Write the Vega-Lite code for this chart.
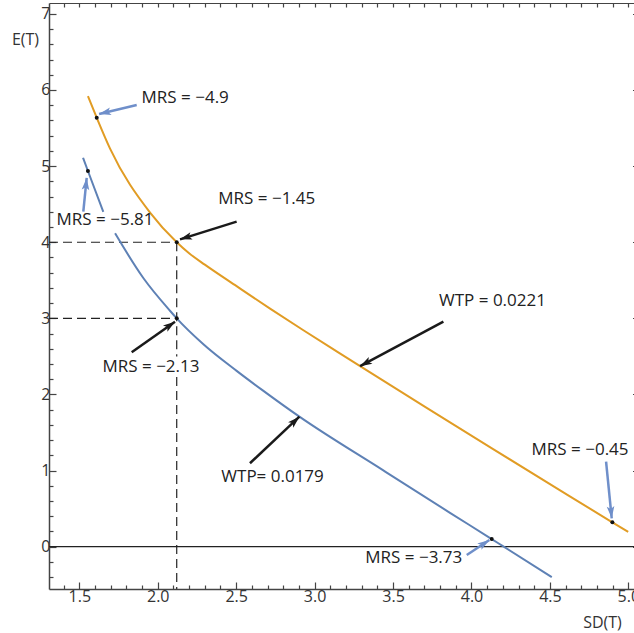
{
  "$schema": "https://vega.github.io/schema/vega-lite/v6.json",
  "width": 585,
  "height": 586,
  "autosize": {"type": "none"},
  "padding": {"left": 49, "top": 3, "right": 0, "bottom": 44},
  "background": "white",
  "config": {"view": {"stroke": null}, "font": "Open Sans", "text": {"font": "Open Sans"}},
  "datasets": {
    "curves": [
      {"curve": "high", "seg": "a", "x": 1.555, "y": 5.92},
      {"curve": "high", "seg": "a", "x": 1.611, "y": 5.636},
      {"curve": "high", "seg": "a", "x": 1.696, "y": 5.23},
      {"curve": "high", "seg": "a", "x": 1.951, "y": 4.39},
      {"curve": "high", "seg": "a", "x": 2.121, "y": 4.0},
      {"curve": "high", "seg": "a", "x": 2.2, "y": 3.855},
      {"curve": "high", "seg": "a", "x": 2.3, "y": 3.705},
      {"curve": "high", "seg": "a", "x": 2.505, "y": 3.419},
      {"curve": "high", "seg": "a", "x": 2.716, "y": 3.128},
      {"curve": "high", "seg": "a", "x": 2.926, "y": 2.847},
      {"curve": "high", "seg": "a", "x": 3.143, "y": 2.563},
      {"curve": "high", "seg": "a", "x": 3.29, "y": 2.372},
      {"curve": "high", "seg": "a", "x": 3.717, "y": 1.821},
      {"curve": "high", "seg": "a", "x": 4.138, "y": 1.282},
      {"curve": "high", "seg": "a", "x": 4.565, "y": 0.74},
      {"curve": "high", "seg": "a", "x": 4.898, "y": 0.32},
      {"curve": "high", "seg": "a", "x": 4.999, "y": 0.194},
      {"curve": "low", "seg": "b", "x": 1.524, "y": 5.11},
      {"curve": "low", "seg": "b", "x": 1.555, "y": 4.936},
      {"curve": "low", "seg": "b", "x": 1.653, "y": 4.4},
      {"curve": "low", "seg": "c", "x": 1.728, "y": 4.117},
      {"curve": "low", "seg": "c", "x": 1.908, "y": 3.53},
      {"curve": "low", "seg": "c", "x": 2.078, "y": 3.1},
      {"curve": "low", "seg": "c", "x": 2.121, "y": 3.0},
      {"curve": "low", "seg": "c", "x": 2.291, "y": 2.66},
      {"curve": "low", "seg": "c", "x": 2.503, "y": 2.31},
      {"curve": "low", "seg": "c", "x": 2.665, "y": 2.06},
      {"curve": "low", "seg": "c", "x": 2.903, "y": 1.708},
      {"curve": "low", "seg": "c", "x": 3.438, "y": 1.002},
      {"curve": "low", "seg": "c", "x": 3.863, "y": 0.445},
      {"curve": "low", "seg": "c", "x": 4.129, "y": 0.1},
      {"curve": "low", "seg": "c", "x": 4.203, "y": 0.003},
      {"curve": "low", "seg": "c", "x": 4.512, "y": -0.4}
    ],
    "dots": [
      {"x": 1.611, "y": 5.636},
      {"x": 1.555, "y": 4.936},
      {"x": 2.121, "y": 4.0},
      {"x": 2.121, "y": 3.0},
      {"x": 4.898, "y": 0.32},
      {"x": 4.129, "y": 0.1}
    ],
    "guides": [
      {"x": 1.3068, "y": 4.0, "x2": 2.121, "y2": 4.0},
      {"x": 1.3068, "y": 3.0, "x2": 2.121, "y2": 3.0},
      {"x": 2.121, "y": 4.0, "x2": 2.121, "y2": 2.5},
      {"x": 2.121, "y": 2.23, "x2": 2.121, "y2": -0.556}
    ],
    "arrows": [
      {"x": 1.866, "y": 5.802, "x2": 1.626, "y2": 5.684, "dir": 256.6, "kind": "blue"},
      {"x": 1.5255, "y": 4.401, "x2": 1.547, "y2": 4.844, "dir": 5.8, "kind": "blue"},
      {"x": 2.503, "y": 4.27, "x2": 2.142, "y2": 4.038, "dir": 252.8, "kind": "black"},
      {"x": 1.834, "y": 2.554, "x2": 2.11, "y2": 2.956, "dir": 54.75, "kind": "black"},
      {"x": 3.821, "y": 2.956, "x2": 3.29, "y2": 2.372, "dir": 241.3, "kind": "black"},
      {"x": 4.858, "y": 1.117, "x2": 4.894, "y2": 0.373, "dir": 174.25, "kind": "blue"},
      {"x": 2.588, "y": 1.096, "x2": 2.903, "y2": 1.708, "dir": 46.6, "kind": "black"},
      {"x": 3.97, "y": -0.109, "x2": 4.114, "y2": 0.088, "dir": 56.4, "kind": "blue"}
    ],
    "labels": [
      {"x": 2.175, "y": 5.895, "text": "MRS = −4.9"},
      {"x": 2.695, "y": 4.568, "text": "MRS = −1.45"},
      {"x": 1.664, "y": 4.292, "text": "MRS = −5.81"},
      {"x": 1.957, "y": 2.367, "text": "MRS = −2.13"},
      {"x": 4.134, "y": 3.228, "text": "WTP = 0.0221"},
      {"x": 4.692, "y": 1.27, "text": "MRS = −0.45"},
      {"x": 2.732, "y": 0.922, "text": "WTP= 0.0179"},
      {"x": 3.632, "y": -0.155, "text": "MRS = −3.73"}
    ],
    "zero": [{"y": 0}]
  },
  "resolve": {"axis": {"x": "independent", "y": "independent"}},
  "layer": [
    {
      "data": {"name": "zero"},
      "mark": {"type": "rule", "color": "#222222", "strokeWidth": 1.2},
      "encoding": {
        "y": {"field": "y", "type": "quantitative", "scale": {"domain": [-0.556, 7.143], "nice": false, "zero": false}, "axis": null}
      }
    },
    {
      "data": {"name": "guides"},
      "mark": {"type": "rule", "color": "#222222", "strokeWidth": 1.2, "strokeDash": [9, 5]},
      "encoding": {
        "x": {"field": "x", "type": "quantitative", "scale": {"domain": [1.3068, 5.036], "nice": false, "zero": false}, "axis": null},
        "y": {"field": "y", "type": "quantitative", "axis": null},
        "x2": {"field": "x2"},
        "y2": {"field": "y2"}
      }
    },
    {
      "data": {"name": "curves"},
      "mark": {"type": "line", "interpolate": "monotone", "strokeWidth": 2},
      "encoding": {
        "x": {
          "field": "x", "type": "quantitative",
          "scale": {"domain": [1.3068, 5.036], "nice": false, "zero": false},
          "axis": {
            "orient": "bottom",
            "values": [1.4, 1.5, 1.6, 1.7, 1.8, 1.9, 2.0, 2.1, 2.2, 2.3, 2.4, 2.5, 2.6, 2.7, 2.8, 2.9, 3.0, 3.1, 3.2, 3.3, 3.4, 3.5, 3.6, 3.7, 3.8, 3.9, 4.0, 4.1, 4.2, 4.3, 4.4, 4.5, 4.6, 4.7, 4.8, 4.9, 5.0],
            "labelExpr": "abs(datum.value*2 - round(datum.value*2)) < 0.001 ? format(datum.value, '.1f') : ''",
            "tickSize": {"condition": {"test": "abs(datum.value*2 - round(datum.value*2)) < 0.001", "value": -7}, "value": -4},
            "grid": false,
            "labelOverlap": false,
            "labelFlush": false,
            "labelFontSize": 16,
            "labelColor": "#333333",
            "labelPadding": 6,
            "domainColor": "#444444",
            "domainWidth": 1.5,
            "tickColor": "#444444",
            "tickWidth": 1.2,
            "title": "SD(T)",
            "titleX": 553,
            "titleY": 33,
            "titleAlign": "center",
            "titleBaseline": "middle",
            "titleFontSize": 16,
            "titleFontWeight": "normal",
            "titleColor": "#333333"
          }
        },
        "y": {
          "field": "y", "type": "quantitative",
          "scale": {"domain": [-0.556, 7.143], "nice": false, "zero": false},
          "axis": {
            "orient": "left",
            "values": [-0.4, -0.2, 0, 0.2, 0.4, 0.6, 0.8, 1, 1.2, 1.4, 1.6, 1.8, 2, 2.2, 2.4, 2.6, 2.8, 3, 3.2, 3.4, 3.6, 3.8, 4, 4.2, 4.4, 4.6, 4.8, 5, 5.2, 5.4, 5.6, 5.8, 6, 6.2, 6.4, 6.6, 6.8, 7],
            "labelExpr": "abs(datum.value - round(datum.value)) < 0.001 ? format(round(datum.value), 'd') : ''",
            "tickSize": {"condition": {"test": "abs(datum.value - round(datum.value)) < 0.001", "value": -7}, "value": -4},
            "grid": false,
            "labelOverlap": false,
            "labelFlush": false,
            "labelFontSize": 16,
            "labelColor": "#333333",
            "labelPadding": 6,
            "domainColor": "#444444",
            "domainWidth": 1.5,
            "tickColor": "#444444",
            "tickWidth": 1.2,
            "title": "E(T)",
            "titleAngle": 0,
            "titleX": -24,
            "titleY": 36,
            "titleAlign": "center",
            "titleBaseline": "middle",
            "titleFontSize": 16,
            "titleFontWeight": "normal",
            "titleColor": "#333333"
          }
        },
        "color": {
          "field": "curve", "type": "nominal", "legend": null,
          "scale": {"domain": ["high", "low", "blue", "black"], "range": ["#E19C24", "#5E81B5", "#6F8FCA", "#1A1A1A"]}
        },
        "detail": {"field": "seg"}
      }
    },
    {
      "data": {"name": "arrows"},
      "mark": {"type": "rule", "strokeWidth": 2.5},
      "encoding": {
        "x": {"field": "x", "type": "quantitative", "axis": null},
        "y": {"field": "y", "type": "quantitative", "axis": null},
        "x2": {"field": "x2"},
        "y2": {"field": "y2"},
        "color": {
          "field": "kind", "type": "nominal", "legend": null,
          "scale": {"domain": ["high", "low", "blue", "black"], "range": ["#E19C24", "#5E81B5", "#6F8FCA", "#1A1A1A"]}
        }
      }
    },
    {
      "data": {"name": "arrows"},
      "mark": {"type": "point", "filled": true, "opacity": 1, "strokeWidth": 0, "shape": "M0,0L0.7,2.2L0,1.7L-0.7,2.2Z", "size": 119},
      "encoding": {
        "x": {"field": "x2", "type": "quantitative", "axis": null},
        "y": {"field": "y2", "type": "quantitative", "axis": null},
        "angle": {"field": "dir", "type": "quantitative", "scale": null},
        "color": {
          "field": "kind", "type": "nominal", "legend": null,
          "scale": {"domain": ["high", "low", "blue", "black"], "range": ["#E19C24", "#5E81B5", "#6F8FCA", "#1A1A1A"]}
        }
      }
    },
    {
      "data": {"name": "dots"},
      "mark": {"type": "point", "filled": true, "opacity": 1, "color": "#111111", "size": 16},
      "encoding": {
        "x": {
          "field": "x", "type": "quantitative",
          "axis": {
            "orient": "top",
            "values": [1.4, 1.5, 1.6, 1.7, 1.8, 1.9, 2.0, 2.1, 2.2, 2.3, 2.4, 2.5, 2.6, 2.7, 2.8, 2.9, 3.0, 3.1, 3.2, 3.3, 3.4, 3.5, 3.6, 3.7, 3.8, 3.9, 4.0, 4.1, 4.2, 4.3, 4.4, 4.5, 4.6, 4.7, 4.8, 4.9, 5.0],
            "labels": false,
            "tickSize": -4,
            "grid": false,
            "domainColor": "#444444",
            "domainWidth": 1,
            "tickColor": "#444444",
            "tickWidth": 1.2,
            "title": null
          }
        },
        "y": {
          "field": "y", "type": "quantitative",
          "axis": {
            "orient": "right",
            "values": [0, 1, 2, 3, 4, 5, 6, 7],
            "labels": false,
            "tickSize": -1.5,
            "grid": false,
            "domain": false,
            "tickColor": "#444444",
            "tickWidth": 1.2,
            "title": null
          }
        }
      }
    },
    {
      "data": {"name": "labels"},
      "mark": {"type": "text", "fontSize": 17, "color": "#222222", "align": "center", "baseline": "middle", "font": "Open Sans"},
      "encoding": {
        "x": {"field": "x", "type": "quantitative", "axis": null},
        "y": {"field": "y", "type": "quantitative", "axis": null},
        "text": {"field": "text"}
      }
    }
  ]
}
